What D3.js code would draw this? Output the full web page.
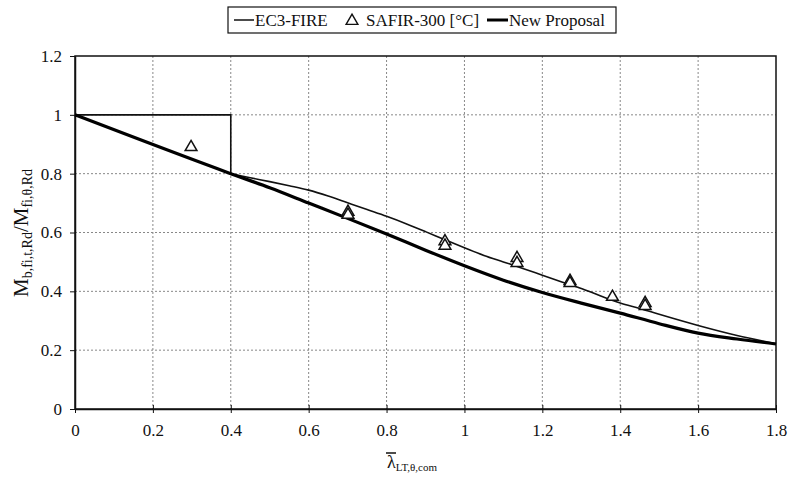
<!DOCTYPE html>
<html>
<head>
<meta charset="utf-8">
<script src="https://cdn.jsdelivr.net/npm/d3@7"></script>
<style>
  body { margin: 0; background: #fff; }
  svg { display: block; }
</style>
</head>
<body>
<svg id="chart" width="789" height="482"></svg>
<script>
// ---- data ----
const xTicks = [0, 0.2, 0.4, 0.6, 0.8, 1, 1.2, 1.4, 1.6, 1.8];
const yTicks = [0, 0.2, 0.4, 0.6, 0.8, 1, 1.2];

// EC3-FIRE: plateau then curve
const ec3Plateau = [[0, 1], [0.4, 1], [0.4, 0.8]];
const ec3Lambda = [0.4, 0.45, 0.5, 0.55, 0.6, 0.65, 0.7, 0.75, 0.8, 0.85, 0.9, 0.95, 1.0, 1.05, 1.1, 1.15, 1.2, 1.25, 1.3, 1.35, 1.4, 1.45, 1.5, 1.6, 1.7, 1.8];
const ec3Values = [0.8, 0.786, 0.773, 0.759, 0.744, 0.724, 0.701, 0.678, 0.655, 0.630, 0.603, 0.575, 0.548, 0.522, 0.500, 0.478, 0.455, 0.432, 0.410, 0.384, 0.360, 0.342, 0.322, 0.284, 0.250, 0.222];

// New Proposal
const newLambda = [0, 0.4, 0.5, 0.6, 0.7, 0.8, 0.9, 1.0, 1.1, 1.2, 1.3, 1.4, 1.5, 1.6, 1.7, 1.8];
const newValues = [1, 0.8, 0.752, 0.700, 0.648, 0.595, 0.540, 0.487, 0.438, 0.396, 0.360, 0.326, 0.290, 0.258, 0.238, 0.221];

// SAFIR-300 [°C]
const safirLambda = [0.298, 0.701, 0.701, 0.95, 0.95, 1.135, 1.135, 1.271, 1.271, 1.38, 1.464, 1.464];
const safirValues = [0.89, 0.670, 0.660, 0.570, 0.555, 0.513, 0.496, 0.435, 0.428, 0.381, 0.360, 0.350];

// ---- layout ----
const FONT = "Liberation Serif";
const svg = d3.select("#chart");
const x = d3.scaleLinear().domain([0, 1.8]).range([75, 776]);
const y = d3.scaleLinear().domain([0, 1.2]).range([409, 56]);

// gridlines
const grid = svg.append("g");
grid.selectAll("line.v").data(xTicks.slice(1, -1)).enter().append("line")
  .attr("x1", d => x(d)).attr("x2", d => x(d)).attr("y1", y(1.2)).attr("y2", y(0))
  .attr("stroke", "#888").attr("stroke-width", 1).attr("stroke-dasharray", "2,2");
grid.selectAll("line.h").data(yTicks.slice(1, -1)).enter().append("line")
  .attr("x1", x(0)).attr("x2", x(1.8)).attr("y1", d => y(d)).attr("y2", d => y(d))
  .attr("stroke", "#888").attr("stroke-width", 1).attr("stroke-dasharray", "2,2");

// frame
svg.append("rect").attr("x", x(0)).attr("y", y(1.2))
  .attr("width", x(1.8) - x(0)).attr("height", y(0) - y(1.2))
  .attr("fill", "none").attr("stroke", "#111").attr("stroke-width", 1.5);

// axes
const xAxis = d3.axisBottom(x).tickValues(xTicks).tickFormat(d3.format("~g")).tickSizeInner(4).tickSizeOuter(0).tickPadding(11);
const gx = svg.append("g").attr("transform", `translate(0,${y(0)})`).call(xAxis);
gx.select(".domain").attr("stroke", "#111").attr("stroke-width", 1.5);
gx.selectAll(".tick line").attr("stroke", "#111").attr("y1", -4);
gx.selectAll("text").style("font-family", FONT).style("font-size", "17px").attr("fill", "#111");

const yAxis = d3.axisLeft(y).tickValues(yTicks).tickFormat(d3.format("~g")).tickSizeInner(5).tickSizeOuter(0).tickPadding(8);
const gy = svg.append("g").attr("transform", `translate(${x(0)},0)`).call(yAxis);
gy.select(".domain").attr("stroke", "#111").attr("stroke-width", 1.5);
gy.selectAll(".tick line").attr("stroke", "#111");
gy.selectAll("text").style("font-family", FONT).style("font-size", "17px").attr("fill", "#111");

// lines
const lineLin = d3.line().x(d => x(d[0])).y(d => y(d[1]));
const lineCurve = d3.line().x(d => x(d[0])).y(d => y(d[1])).curve(d3.curveMonotoneX);

svg.append("path").datum(ec3Plateau).attr("d", lineLin)
  .attr("fill", "none").attr("stroke", "#111").attr("stroke-width", 1.6);
svg.append("path").datum(ec3Lambda.map((l, i) => [l, ec3Values[i]])).attr("d", lineCurve)
  .attr("fill", "none").attr("stroke", "#111").attr("stroke-width", 1.6);
svg.append("path").datum(newLambda.map((l, i) => [l, newValues[i]])).attr("d", lineCurve)
  .attr("fill", "none").attr("stroke", "#000").attr("stroke-width", 3.2);

// markers
const tri = d3.symbol().type(d3.symbolTriangle).size(60);
svg.selectAll("path.safir").data(safirLambda.map((l, i) => [l, safirValues[i]])).enter()
  .append("path").attr("class", "safir").attr("d", tri)
  .attr("transform", d => `translate(${x(d[0])},${y(d[1])})`)
  .attr("fill", "#fff").attr("stroke", "#111").attr("stroke-width", 1.5);

// legend
const lg = svg.append("g");
lg.append("rect").attr("x", 228).attr("y", 7).attr("width", 388).attr("height", 26)
  .attr("fill", "#fff").attr("stroke", "#111").attr("stroke-width", 1.2);
lg.append("line").attr("x1", 234).attr("x2", 254).attr("y1", 20).attr("y2", 20).attr("stroke", "#111").attr("stroke-width", 1.5);
lg.append("text").attr("x", 255).attr("y", 26).style("font-family", FONT).style("font-size", "17px").attr("fill", "#111").text("EC3-FIRE");
lg.append("path").attr("d", tri).attr("transform", "translate(352,21)")
  .attr("fill", "#fff").attr("stroke", "#111").attr("stroke-width", 1.4);
lg.append("text").attr("x", 366).attr("y", 26).style("font-family", FONT).style("font-size", "17px").attr("fill", "#111").text("SAFIR-300 [°C]");
lg.append("line").attr("x1", 487).attr("x2", 508).attr("y1", 20).attr("y2", 20).attr("stroke", "#000").attr("stroke-width", 3);
lg.append("text").attr("x", 509).attr("y", 26).style("font-family", FONT).style("font-size", "17px").attr("fill", "#111").text("New Proposal");

// y-axis title
const yt = svg.append("text").attr("transform", "translate(28,233) rotate(-90)")
  .attr("text-anchor", "middle").style("font-family", FONT).style("font-size", "21px").attr("fill", "#111");
yt.append("tspan").text("M");
yt.append("tspan").style("font-size", "14px").attr("dy", 4).text("b,fi,t,Rd");
yt.append("tspan").attr("dy", -4).text("/M");
yt.append("tspan").style("font-size", "14px").attr("dy", 4).text("fi,θ,Rd");

// x-axis title
const xt = svg.append("text").attr("x", 387).attr("y", 468).style("font-family", FONT).style("font-size", "18px").attr("fill", "#111");
xt.append("tspan").text("λ");
xt.append("tspan").style("font-size", "11px").attr("dy", 3).text("LT,θ,com");
svg.append("line").attr("x1", 386).attr("x2", 396).attr("y1", 453).attr("y2", 453)
  .attr("stroke", "#111").attr("stroke-width", 1.5);
</script>
</body>
</html>
